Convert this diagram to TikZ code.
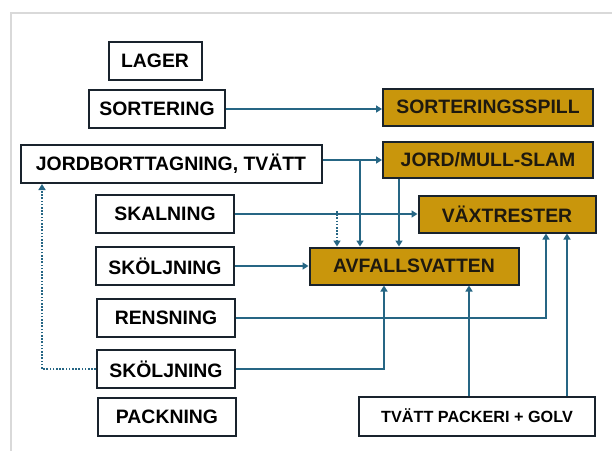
\documentclass[tikz,border=0pt]{standalone}
\usepackage{fontspec}
\setmainfont{Liberation Sans}
\usetikzlibrary{arrows.meta}
\definecolor{gold}{RGB}{201,150,12}
\definecolor{edge}{RGB}{25,35,45}
\definecolor{flow}{RGB}{38,102,132}
\definecolor{frame}{RGB}{217,217,217}
\tikzset{
  box/.style={draw=edge, line width=2pt, fill=white, inner sep=0pt, text=black,
    font=\fontsize{19.4}{22}\selectfont\bfseries, minimum height=38pt},
  goldbox/.style={box, fill=gold, text={rgb,255:red,30;green,25;blue,15}},
  arr/.style={draw=flow, line width=2pt, -{Triangle[width=7pt,length=6pt]}},
  dotarr/.style={arr, dash pattern=on 1.6pt off 1.6pt},
}
\begin{document}
\begin{tikzpicture}[x=1pt, y=-1pt]
\useasboundingbox[fill=white] (0,0) rectangle (612,450);
\draw[frame, line width=2pt] (11,451) -- (11,13) -- (613,13);

% left process boxes
\node[box, minimum width=93pt] (lager) at (155,61) {LAGER};
\node[box, minimum width=136pt] (sort) at (157,109) {SORTERING};
\node[box, minimum width=301pt] (jord) at (171,164) {JORDBORTTAGNING, TVÄTT};
\node[box, minimum width=138pt] (skal) at (165,214) {SKALNING};
\node[box, minimum width=138pt] (skol1) at (165,266) {SKÖLJNING};
\node[box, minimum width=138pt] (rens) at (166,318) {RENSNING};
\node[box, minimum width=138pt] (skol2) at (166,369) {SKÖLJNING};
\node[box, minimum width=138pt] (pack) at (167,417) {PACKNING};

% waste boxes
\node[goldbox, minimum width=210pt, minimum height=37pt] (spill) at (488,107) {SORTERINGSSPILL};
\node[goldbox, minimum width=210pt, minimum height=36pt] (mull) at (488,160) {JORD/MULL-SLAM};
\node[goldbox, minimum width=177pt, minimum height=37pt] (vax) at (507,214) {VÄXTRESTER};
\node[goldbox, minimum width=209pt, minimum height=37pt] (avf) at (414,266) {AVFALLSVATTEN};
\node[box, minimum width=236pt, minimum height=39pt, font=\fontsize{16.2}{19}\selectfont\bfseries] (tvatt) at (477,416) {TVÄTT PACKERI + GOLV};

% branch coordinates
\coordinate (jb) at (360,160);
\coordinate (mb) at (399,160);
\coordinate (sb) at (337,214);
\coordinate (rb) at (546,318);
\coordinate (s2b) at (384,369);
\coordinate (tb1) at (469,416);
\coordinate (tb2) at (567,416);
\coordinate (db) at (42,369);

% connectors
\draw[arr] (sort.east) -- (sort.east -| spill.west);
\draw[arr] (jord.east |- mull.west) -- (mull.west);
\draw[arr] (jb) -- (jb |- avf.north);
\draw[arr] (mb |- mull.south) -- (mb |- avf.north);
\draw[arr] (skal.east) -- (skal.east -| vax.west);
\draw[dotarr] ([yshift=3pt]sb) -- (sb |- avf.north);
\draw[arr] (skol1.east) -- (skol1.east -| avf.west);
\draw[arr] (rens.east) -- (rb) -- (rb |- vax.south);
\draw[arr] (skol2.east) -- (s2b) -- (s2b |- avf.south);
\draw[dotarr] (skol2.west) -- (db) -- (db |- jord.south);
\draw[arr] (tb1 |- tvatt.north) -- (tb1 |- avf.south);
\draw[arr] (tb2 |- tvatt.north) -- (tb2 |- vax.south);
\end{tikzpicture}
\end{document}
